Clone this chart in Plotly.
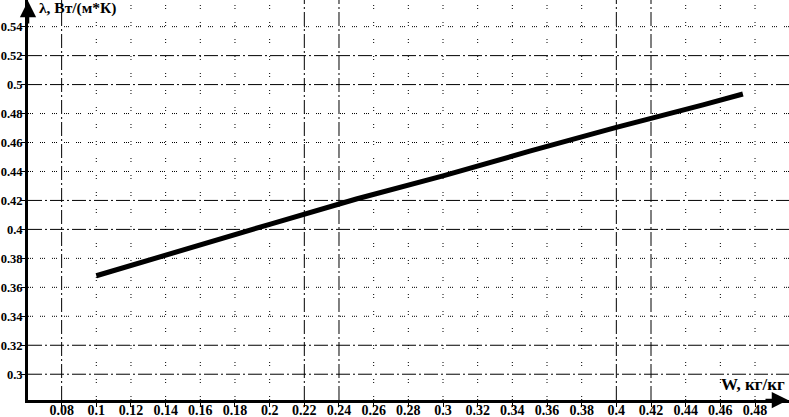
import plotly.graph_objects as go

# W, kg/kg  ->  lambda, W/(m*K)
w = [0.1, 0.15, 0.2, 0.25, 0.3, 0.35, 0.4, 0.45, 0.473]
lam = [0.368, 0.386, 0.4035, 0.421, 0.437, 0.454, 0.4705, 0.486, 0.4935]

x_ticks = [0.08, 0.1, 0.12, 0.14, 0.16, 0.18, 0.2, 0.22, 0.24, 0.26, 0.28, 0.3,
           0.32, 0.34, 0.36, 0.38, 0.4, 0.42, 0.44, 0.46, 0.48]
x_labels = ["0.08", "0.1", "0.12", "0.14", "0.16", "0.18", "0.2", "0.22", "0.24", "0.26",
            "0.28", "0.3", "0.32", "0.34", "0.36", "0.38", "0.4", "0.42", "0.44", "0.46", "0.48"]
y_ticks = [0.3, 0.32, 0.34, 0.36, 0.38, 0.4, 0.42, 0.44, 0.46, 0.48, 0.5, 0.52, 0.54]
y_labels = ["0.3", "0.32", "0.34", "0.36", "0.38", "0.4", "0.42", "0.44", "0.46", "0.48",
            "0.5", "0.52", "0.54"]

# grid lines drawn dash-dot, the rest dotted
x_major = [0.08, 0.22, 0.24, 0.4, 0.42]
y_major = [0.3, 0.32, 0.4, 0.42, 0.5, 0.52]

FONT = "Liberation Serif"

fig = go.Figure()

for v in x_ticks:
    fig.add_shape(type="line", xref="x", yref="paper", x0=v, x1=v, y0=0, y1=1,
                  layer="below",
                  line=dict(color="black", width=1,
                            dash="14px,3px,2px,3px" if v in x_major else "1px,2px,1px,13px"))
for v in y_ticks:
    fig.add_shape(type="line", xref="paper", yref="y", x0=0, x1=1, y0=v, y1=v,
                  layer="below",
                  line=dict(color="black", width=1,
                            dash="14px,3px,2px,3px" if v in y_major else "1px,1px,1px,1px,1px,7px"))

fig.add_trace(go.Scatter(x=w, y=lam, mode="lines",
                         line=dict(color="black", width=5), showlegend=False,
                         hoverinfo="skip"))

# axis arrows
fig.add_annotation(x=0, y=1, xref="paper", yref="paper", ax=0, ay=25, text="",
                   showarrow=True, arrowhead=2, arrowsize=1.3, arrowwidth=2.5,
                   arrowcolor="black", standoff=0)
fig.add_annotation(x=1, y=0, xref="paper", yref="paper", ax=-25, ay=0, text="",
                   showarrow=True, arrowhead=2, arrowsize=1.3, arrowwidth=2.5,
                   arrowcolor="black", standoff=0)

fig.add_annotation(x=0.0118, y=0.979, xref="paper", yref="paper",
                   text="<b>λ, Вт/(м*К)</b>", showarrow=False,
                   xanchor="left", yanchor="middle",
                   font=dict(family=FONT, size=15.5, color="black"))
fig.add_annotation(x=0.9974, y=0.04, xref="paper", yref="paper",
                   text="<b>W, кг/кг</b>", showarrow=False,
                   xanchor="right", yanchor="middle",
                   font=dict(family=FONT, size=17, color="black"))

fig.update_xaxes(range=[0.0606, 0.4996], tickvals=x_ticks, ticktext=x_labels,
                 showgrid=False, zeroline=False, showline=True, linewidth=3,
                 linecolor="black", ticks="outside", ticklen=4, tickwidth=1,
                 tickcolor="black", automargin=False, ticklabelstandoff=-9,
                 tickfont=dict(family=FONT, size=14, color="black", weight="bold"))
fig.update_yaxes(range=[0.2822, 0.5584], tickvals=y_ticks, ticktext=y_labels,
                 showgrid=False, zeroline=False, showline=True, linewidth=3,
                 linecolor="black", ticks="outside", ticklen=4, tickwidth=1,
                 tickcolor="black", automargin=False, ticklabelstandoff=-4,
                 tickfont=dict(family=FONT, size=12.5, color="black", weight="bold"))

fig.update_layout(width=789, height=417,
                  margin=dict(l=28, r=0, t=0, b=17),
                  paper_bgcolor="white", plot_bgcolor="white")

fig.write_html("out.html", config={"displayModeBar": False},
               post_script="document.body.style.margin='0';")
